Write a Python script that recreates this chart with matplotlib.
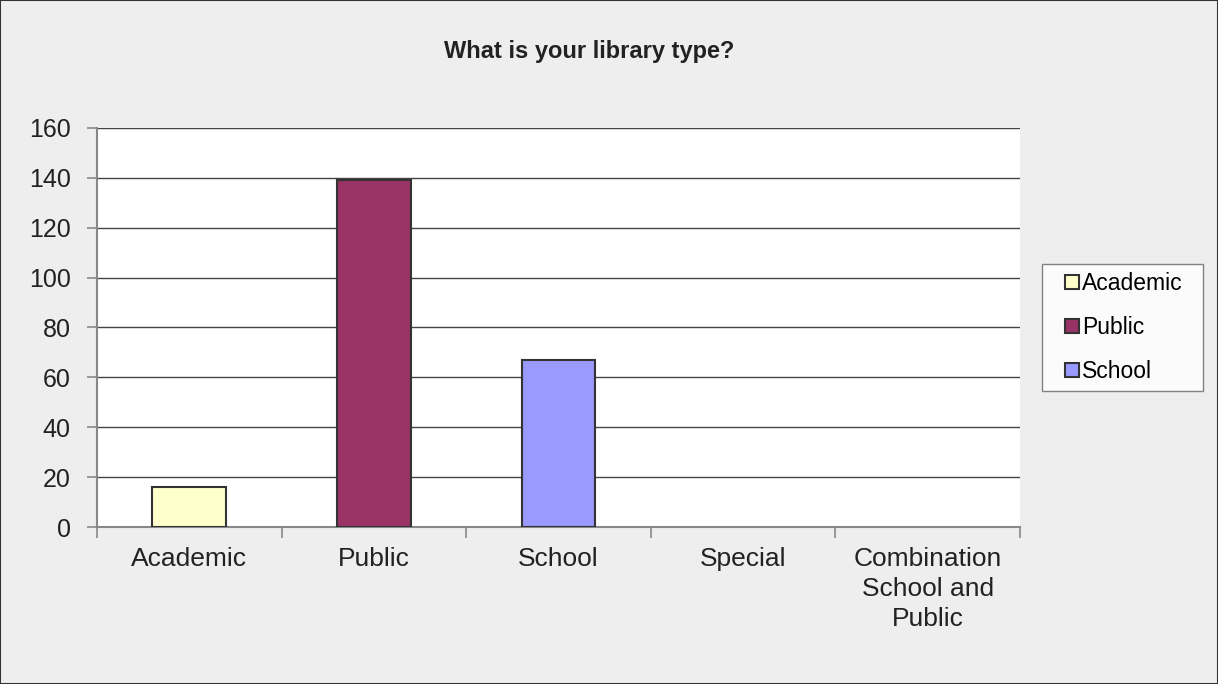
import matplotlib.pyplot as plt
from matplotlib.patches import Rectangle
from matplotlib.lines import Line2D

plt.rcParams["font.family"] = ["Liberation Sans", "DejaVu Sans"]

# Survey data
categories = ["Academic", "Public", "School", "Special", "Combination\nSchool and\nPublic"]
counts = [16, 139, 67, 0, 0]
colors = ["#FFFFCC", "#993366", "#9999FF", "#FFFFFF", "#FFFFFF"]
legend_names = ["Academic", "Public", "School"]

fig = plt.figure(figsize=(12.18, 6.84), dpi=100, facecolor="#EEEEEE")
fig.patches.append(Rectangle((0, 0), 1, 1, transform=fig.transFigure, fill=False,
                             edgecolor="#333333", linewidth=1.5))
ax = fig.add_axes([0.0796, 0.2295, 0.7578, 0.5834])
ax.set_facecolor("white")

x = range(len(categories))
for i in x:
    if counts[i] > 0:
        ax.bar(i, counts[i], width=0.4, color=colors[i], edgecolor="#333333",
               linewidth=1.5, zorder=3)

ax.set_xlim(-0.5, len(categories) - 0.5)
ax.set_ylim(0, 160)
ax.set_yticks(range(0, 161, 20))
ax.yaxis.grid(True, color="#444444", linewidth=1)
ax.set_axisbelow(True)

ax.set_xticks([i + 0.5 for i in range(-1, len(categories))])
ax.set_xticklabels([])
ax.set_xticks(list(x), minor=True)
ax.set_xticklabels(categories, minor=True, fontsize=19, color="#222222")
for lbl in ax.get_xticklabels(minor=True):
    lbl.set_linespacing(1.32)
ax.tick_params(axis="x", which="major", length=8, color="#888888", width=1.2)
ax.tick_params(axis="x", which="minor", length=0, pad=14.5)
ax.tick_params(axis="y", length=7, color="#888888", width=1.2, labelsize=18,
               labelcolor="#222222", pad=12)

for s in ["top", "right"]:
    ax.spines[s].set_visible(False)
ax.spines["left"].set_color("#888888")
ax.spines["left"].set_linewidth(1.5)
ax.spines["bottom"].set_color("#888888")
ax.spines["bottom"].set_linewidth(1.5)

fig.text(0.484, 0.925, "What is your library type?", ha="center", va="center",
         fontsize=17, fontweight="bold", color="#222222")

# legend: only the first three categories, small square keys
handles = [Line2D([], [], linestyle="none", marker="s", markersize=9.5,
                  markerfacecolor=colors[i], markeredgecolor="#333333",
                  markeredgewidth=1.5) for i in range(len(legend_names))]
leg = ax.legend(handles, legend_names, loc="center left",
                bbox_to_anchor=(1.0238, 0.0, 0.1745, 1.0), mode="expand",
                fontsize=16.5, frameon=True, fancybox=False, edgecolor="#666666",
                handlelength=1.87, handletextpad=-0.5,
                labelspacing=0.91, borderpad=0.37, borderaxespad=0)
leg.get_frame().set_linewidth(1)

fig.savefig("out.png", dpi=100, facecolor=fig.get_facecolor())
